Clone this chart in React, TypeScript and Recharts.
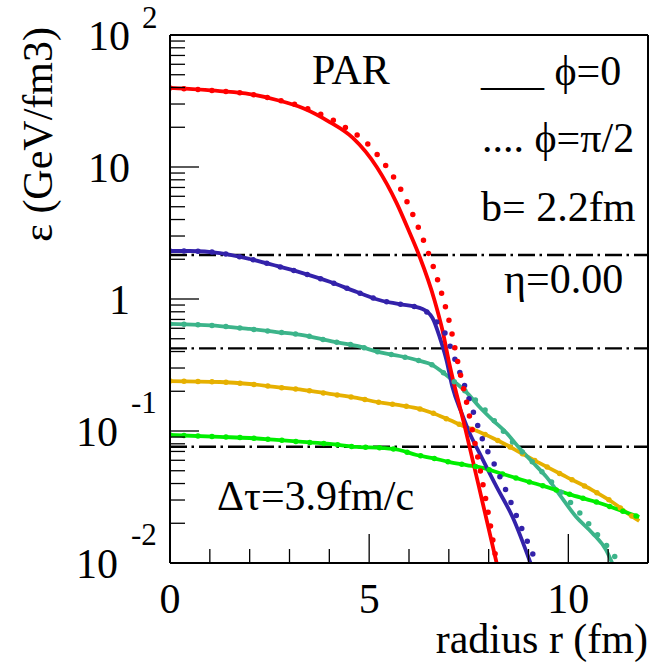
import React from 'react';
import { LineChart, Line, XAxis, YAxis, ReferenceLine } from 'recharts';

const FONT = 'Liberation Serif, Times New Roman, serif';

type P = { x: number; y: number };
const pts = (a: number[][]): P[] => a.map(([x, y]) => ({ x, y }));

// phi = 0 (solid) and phi = pi/2 (dotted) energy density profiles, eps (GeV/fm3) vs r (fm)
const redSolid = pts([
  [0, 39.7], [1.25, 37.6], [2.0, 35.7], [2.68, 32.2], [3.33, 28.0], [4.01, 21.9], [4.59, 16.6],
  [5.19, 10.0], [5.69, 5.33], [6.02, 3.16], [6.27, 2.08], [6.64, 0.98], [6.84, 0.58], [7.01, 0.327],
  [7.42, 0.102], [7.85, 0.0285], [8.2, 0.01],
]);
const redDotted = pts([
  [0, 39.7], [1.25, 37.6], [2.0, 35.7], [2.68, 32.4], [3.33, 28.5], [4.34, 20.5], [4.94, 15.2],
  [5.39, 10.5], [5.79, 6.81], [6.09, 4.41], [6.37, 2.75], [6.62, 1.72], [6.84, 1.05], [7.02, 0.658],
  [7.24, 0.316], [7.47, 0.152], [7.82, 0.045], [8.02, 0.0212], [8.2, 0.01],
]);
const blueSolid = pts([
  [0, 2.31], [0.5, 2.31], [1.25, 2.23], [2.0, 2.01], [2.68, 1.78], [3.33, 1.57], [4.01, 1.35],
  [4.69, 1.13], [5.34, 0.966], [5.76, 0.916], [6.34, 0.84], [6.59, 0.718], [6.77, 0.515],
  [6.94, 0.345], [7.09, 0.215], [7.32, 0.137], [7.52, 0.0966], [7.77, 0.068], [8.2, 0.0377],
  [8.6, 0.0223], [9.05, 0.01],
]);
const blueDotted = pts([
  [0, 2.31], [0.5, 2.31], [1.25, 2.23], [2.0, 2.01], [2.68, 1.78], [3.33, 1.57], [4.01, 1.35],
  [4.69, 1.13], [5.34, 0.966], [5.76, 0.916], [6.34, 0.84], [6.59, 0.718], [6.89, 0.562],
  [7.14, 0.357], [7.39, 0.223], [7.62, 0.138], [7.85, 0.0855], [8.15, 0.0552], [8.45, 0.0345],
  [8.72, 0.0219], [9.0, 0.0139], [9.15, 0.0109], [9.2, 0.01],
]);
const tealSolid = pts([
  [0, 0.647], [1.25, 0.624], [2.0, 0.593], [2.68, 0.562], [3.33, 0.533], [4.01, 0.481],
  [4.69, 0.441], [5.34, 0.39], [5.76, 0.37], [6.19, 0.345], [6.59, 0.316], [6.84, 0.28],
  [7.09, 0.243], [7.44, 0.197], [7.77, 0.152], [8.1, 0.121], [8.45, 0.0966], [8.77, 0.0743],
  [9.1, 0.0582], [9.45, 0.0449], [9.77, 0.0333], [10.2, 0.0223], [10.6, 0.0169], [10.95, 0.0125],
  [11.1, 0.01],
]);
const tealDotted = pts([
  [0, 0.647], [1.25, 0.624], [2.0, 0.593], [2.68, 0.562], [3.33, 0.533], [4.01, 0.481],
  [4.69, 0.441], [5.34, 0.39], [5.76, 0.37], [6.19, 0.345], [6.59, 0.316], [6.84, 0.28],
  [7.09, 0.243], [7.44, 0.197], [7.64, 0.175], [8.15, 0.119], [8.6, 0.0826], [9.1, 0.0582],
  [9.6, 0.0404], [10.33, 0.0231], [10.78, 0.0157], [11.2, 0.0107], [11.25, 0.01],
]);
const orangeSolid = pts([
  [0, 0.239], [1.25, 0.235], [2.0, 0.227], [2.68, 0.215], [3.33, 0.205], [4.01, 0.191],
  [4.69, 0.178], [5.34, 0.163], [5.76, 0.157], [6.19, 0.149], [6.59, 0.137], [7.02, 0.121],
  [7.44, 0.107], [7.77, 0.0982], [8.1, 0.0885], [8.45, 0.0783], [8.77, 0.0693], [9.27, 0.0573],
  [9.95, 0.0449], [10.6, 0.0357], [11.1, 0.029], [11.45, 0.0243], [11.78, 0.0208],
]);
const orangeDotted = orangeSolid;
const greenSolid = pts([
  [0, 0.0933], [1.25, 0.0902], [2.0, 0.0885], [2.68, 0.0855], [3.33, 0.0826], [4.01, 0.0798],
  [4.69, 0.0757], [5.34, 0.0743], [5.76, 0.0718], [6.19, 0.0658], [6.59, 0.0624], [7.02, 0.0582],
  [7.44, 0.0552], [7.85, 0.0525], [8.27, 0.0481], [8.77, 0.0433], [9.45, 0.0377], [10.1, 0.0327],
  [10.78, 0.0285], [11.28, 0.0252], [11.78, 0.0223],
]);
const greenDotted = greenSolid;

const series = [
  { name: 'orange', color: '#e6b000', solid: orangeSolid, dotted: orangeDotted },
  { name: 'teal', color: '#3cb48a', solid: tealSolid, dotted: tealDotted },
  { name: 'green', color: '#00ee00', solid: greenSolid, dotted: greenDotted },
  { name: 'blue', color: '#3322aa', solid: blueSolid, dotted: blueDotted },
  { name: 'red', color: '#ff0000', solid: redSolid, dotted: redDotted },
];

const dashDotLevels = [2.154, 0.423, 0.076];

const xTicks = [0, 1, 2, 3, 4, 5, 6, 7, 8, 9, 10, 11, 12];
const xMajor: Record<number, string> = { 0: '0', 5: '5', 10: '10' };
const yTicks = [
  0.01, 0.02, 0.03, 0.04, 0.05, 0.06, 0.07, 0.08, 0.09,
  0.1, 0.2, 0.3, 0.4, 0.5, 0.6, 0.7, 0.8, 0.9,
  1, 2, 3, 4, 5, 6, 7, 8, 9,
  10, 20, 30, 40, 50, 60, 70, 80, 90, 100,
];
const yMajor: Record<string, { base: string; exp?: string }> = {
  '100': { base: '10', exp: '2' },
  '10': { base: '10' },
  '1': { base: '1' },
  '0.1': { base: '10', exp: '-1' },
  '0.01': { base: '10', exp: '-2' },
};

const W = 649;
const H = 666;
const LEFT = 170;
const BOTTOM = 563;
const FS = 42;
const FS_EXP = 31;

const YTick = (props: any) => {
  const { y, payload } = props;
  const v = payload.value;
  const lab = yMajor[String(v)];
  const len = lab ? 29 : 15;
  return (
    <g>
      <line x1={LEFT} x2={LEFT + len} y1={y} y2={y} stroke="#000" strokeWidth={1.3} />
      {lab && !lab.exp && (
        <text x={130} y={y + 15} textAnchor="end" fontFamily={FONT} fontSize={FS} fill="#000">
          {lab.base}
        </text>
      )}
      {lab && lab.exp === '2' && (
        <g>
          <text x={130} y={y + 15} textAnchor="end" fontFamily={FONT} fontSize={FS} fill="#000">
            {lab.base}
          </text>
          <text x={142} y={y - 7} textAnchor="start" fontFamily={FONT} fontSize={FS_EXP} fill="#000">
            {lab.exp}
          </text>
        </g>
      )}
      {lab && lab.exp && lab.exp !== '2' && (
        <g>
          <text x={118} y={y + 15} textAnchor="end" fontFamily={FONT} fontSize={FS} fill="#000">
            {lab.base}
          </text>
          <text x={131} y={y - 18} textAnchor="start" fontFamily={FONT} fontSize={FS_EXP} fill="#000">
            {lab.exp}
          </text>
        </g>
      )}
    </g>
  );
};

const XTick = (props: any) => {
  const { x, payload } = props;
  const v = payload.value;
  const lab = xMajor[v];
  const len = lab !== undefined ? 29 : 14;
  return (
    <g>
      <line x1={x} x2={x} y1={BOTTOM} y2={BOTTOM - len} stroke="#000" strokeWidth={1.3} />
      {lab !== undefined && (
        <text x={x} y={613} textAnchor="middle" fontFamily={FONT} fontSize={FS} fill="#000">
          {lab}
        </text>
      )}
    </g>
  );
};

const T = (p: { x: number; y: number; children: React.ReactNode; anchor?: string }) => (
  <text x={p.x} y={p.y} textAnchor={(p.anchor as any) || 'start'} fontFamily={FONT} fontSize={FS} fill="#000">
    {p.children}
  </text>
);

export default function App() {
  return (
    <div style={{ position: 'absolute', left: 0, top: 0, width: W, height: H, background: '#fff' }}>
      <LineChart width={W} height={H} margin={{ top: 35, right: 1, bottom: 43, left: 110 }}>
        <XAxis
          type="number"
          dataKey="x"
          domain={[0, 12]}
          ticks={xTicks}
          interval={0}
          height={60}
          tickLine={false}
          axisLine={{ stroke: '#000', strokeWidth: 2 }}
          tick={(p: any) => <XTick {...p} />}
          allowDataOverflow
        />
        <YAxis
          type="number"
          dataKey="y"
          scale="log"
          domain={[0.01, 100]}
          ticks={yTicks}
          interval={0}
          width={60}
          tickLine={false}
          axisLine={{ stroke: '#000', strokeWidth: 2 }}
          tick={(p: any) => <YTick {...p} />}
          allowDataOverflow
        />
        <ReferenceLine y={100} stroke="#000" strokeWidth={2} />
        <ReferenceLine x={12} stroke="#000" strokeWidth={2} />
        {dashDotLevels.map((lv) => (
          <ReferenceLine
            key={lv}
            y={lv}
            stroke="#000"
            strokeWidth={2.3}
            strokeDasharray="17 4.5 2.5 5"
            strokeLinecap="butt"
          />
        ))}
        {series.map((s) => (
          <Line
            key={s.name + 's'}
            data={s.solid}
            dataKey="y"
            type="monotone"
            stroke={s.color}
            strokeWidth={3.8}
            dot={false}
            isAnimationActive={false}
          />
        ))}
        {series.map((s) => (
          <Line
            key={s.name + 'd'}
            data={s.dotted}
            dataKey="y"
            type="monotone"
            stroke={s.color}
            strokeWidth={5.5}
            strokeDasharray="0 14"
            strokeLinecap="round"
            dot={false}
            isAnimationActive={false}
          />
        ))}
      </LineChart>
      <svg width={W} height={H} style={{ position: 'absolute', left: 0, top: 0, pointerEvents: 'none' }}>
        <T x={312} y={84}>PAR</T>
        <T x={481} y={85}>___ ϕ=0</T>
        <T x={482} y={152}>.... ϕ=π/2</T>
        <T x={481} y={221}>b= 2.2fm</T>
        <T x={504} y={293}>η=0.00</T>
        <T x={217} y={510}>Δτ=3.9fm/c</T>
        <T x={648} y={653} anchor="end">radius r (fm)</T>
        <text
          x={52}
          y={27}
          transform="rotate(-90 52 27)"
          textAnchor="end"
          fontFamily={FONT}
          fontSize={FS}
          fill="#000"
        >
          ε (GeV/fm3)
        </text>
      </svg>
    </div>
  );
}
